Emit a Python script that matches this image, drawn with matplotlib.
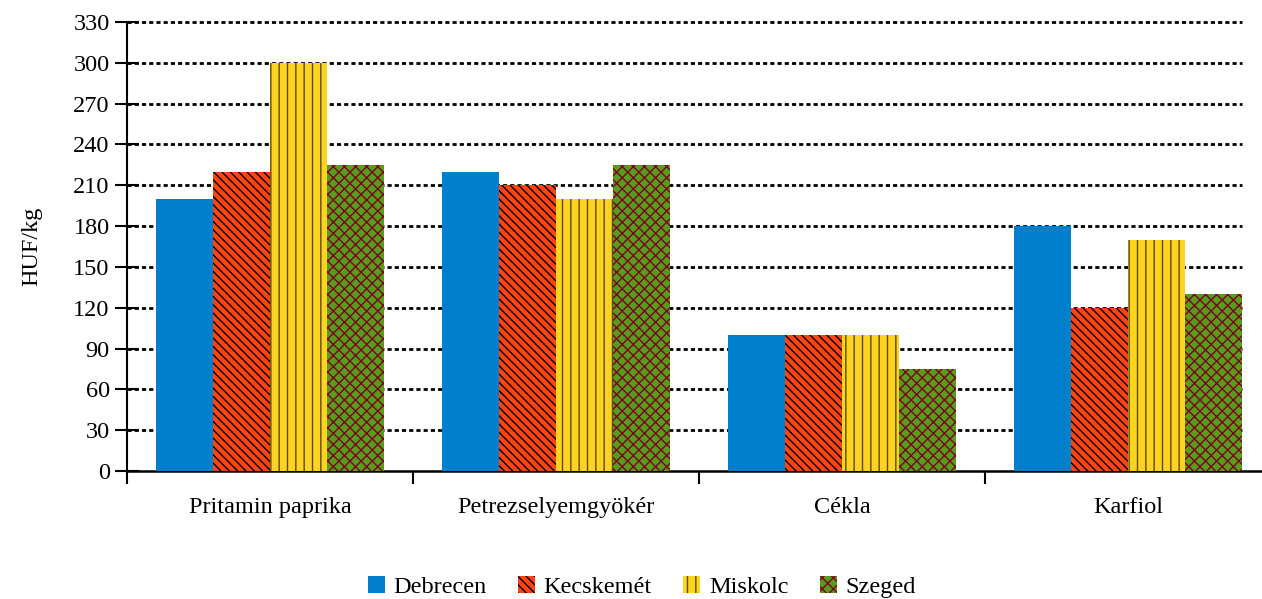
import matplotlib
matplotlib.use("Agg")
import matplotlib.pyplot as plt
import numpy as np

categories = ["Pritamin paprika", "Petrezselyemgyökér", "Cékla", "Karfiol"]
series_names = ["Debrecen", "Kecskemét", "Miskolc", "Szeged"]
debrecen = [200, 220, 100, 180]
kecskemet = [220, 210, 100, 120]
miskolc = [300, 200, 100, 170]
szeged = [225, 225, 75, 130]
yticks = list(range(0, 331, 30))

values = [debrecen, kecskemet, miskolc, szeged]
faces = ["#0080CC", "#FF4411", "#FFD320", "#579D1C"]
hatch_colors = ["#0080CC", "#000000", "#5A4A10", "#7E0021"]
hatches = [None, "\\\\\\\\", "||", "xxx"]

plt.rcParams["font.family"] = ["Liberation Serif", "DejaVu Serif"]
plt.rcParams["hatch.linewidth"] = 1.0

fig = plt.figure(figsize=(12.62, 5.99), dpi=100)
ax = fig.add_axes([127 / 1262, 128 / 599, 1144 / 1262, 449 / 599])

x = np.arange(len(categories))
w = 0.2
for i, (vals, fc, hc, h) in enumerate(zip(values, faces, hatch_colors, hatches)):
    ax.bar(x + (i - 1.5) * w, vals, width=w, color=fc, edgecolor=hc,
           hatch=h, linewidth=0, label=series_names[i], zorder=3)

ax.set_xlim(-0.5, len(categories) - 0.5)
ax.set_ylim(0, 330)
ax.set_yticks(yticks)
grid_end = x[-1] + 2 * w
ax.hlines(yticks[1:], -0.5, grid_end, colors="black", linestyles=[(0, (1.5, 1.1))],
          linewidth=2.0, zorder=1, clip_on=False)

ax.set_xticks(np.arange(-0.5, len(categories) - 0.5, 1.0))
ax.set_xticklabels([])
ax.set_xticks(x, minor=True)
ax.set_xticklabels(categories, minor=True, fontsize=17.5)
ax.tick_params(axis="x", which="minor", length=0, pad=19)
ax.tick_params(axis="x", which="major", direction="out", length=9, width=1.5)
ax.tick_params(axis="y", direction="inout", length=17, width=1.5, labelsize=17.5, pad=4)

for s in ["top", "right"]:
    ax.spines[s].set_visible(False)
ax.spines["left"].set_linewidth(1.5)
ax.spines["bottom"].set_linewidth(1.8)
ax.spines["bottom"].set_zorder(2)

ax.set_ylabel("HUF/kg", fontsize=17.5, labelpad=22)

ax.legend(loc="center", bbox_to_anchor=(0.450, -0.259), ncol=4, frameon=False,
          fontsize=17.5, handlelength=0.7, handleheight=0.7, handletextpad=0.35,
          columnspacing=1.3, borderaxespad=0, borderpad=0)

fig.savefig("out.png", dpi=100)
